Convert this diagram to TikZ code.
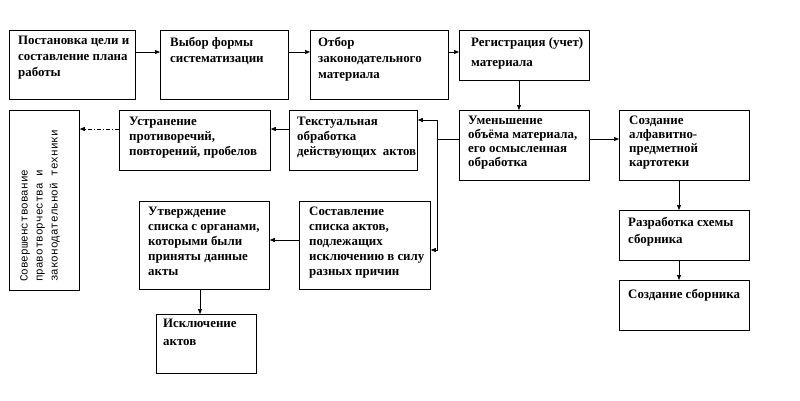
\documentclass[tikz,border=0pt]{standalone}
\usepackage{fontspec}
\setmainfont{Liberation Serif}
\newfontfamily\monofnt{Liberation Mono}
\usetikzlibrary{arrows.meta}
\begin{document}
\begin{tikzpicture}[x=1pt,y=-1pt,
  box/.style={draw, line width=0.8pt, anchor=north west, inner sep=0pt},
  txt/.style={anchor=north west, inner sep=0pt, align=left, font=\bfseries\fontsize{12.9}{#1}\selectfont},
  txt/.default=15,
  arr/.style={line width=0.7pt, -{Triangle[length=5pt,width=4pt]}},
  dd/.style={line width=0.7pt, -{Triangle[length=5pt,width=4pt]}, dash pattern=on 4pt off 2pt on 1pt off 2pt}]
\useasboundingbox (0,0) rectangle (800,400);
% boxes
\node[box, minimum width=126, minimum height=69] (b1) at (9,30) {};
\node[box, minimum width=128, minimum height=69] (b2) at (160,30) {};
\node[box, minimum width=138, minimum height=69] (b3) at (310,30) {};
\node[box, minimum width=130, minimum height=50] (b4) at (459,30) {};
\node[box, minimum width=130, minimum height=70] (b5) at (459,110) {};
\node[box, minimum width=130, minimum height=70] (b6) at (619,110) {};
\node[box, minimum width=130, minimum height=50] (b7) at (619,210) {};
\node[box, minimum width=130, minimum height=50] (b8) at (619,280) {};
\node[box, minimum width=128, minimum height=60] (b9) at (289,110) {};
\node[box, minimum width=151, minimum height=60] (b10) at (119,110) {};
\node[box, minimum width=131, minimum height=88] (b11) at (299,201) {};
\node[box, minimum width=130, minimum height=88] (b12) at (139,201) {};
\node[box, minimum width=100, minimum height=59] (b13) at (156,314) {};
\node[box, minimum width=70, minimum height=180] (b14) at (9,110) {};
% texts
\node[txt=16] (t1) at ([shift={(9,6)}]b1.north west) {Постановка цели и\\составление плана\\работы};
\node[txt=16] (t2) at ([shift={(10,7)}]b2.north west) {Выбор формы\\систематизации};
\node[txt=16] (t3) at ([shift={(8,7)}]b3.north west) {Отбор\\законодательного\\материала};
\node[txt=20] (t4) at ([shift={(12,7)}]b4.north west) {Регистрация (учет)\\материала};
\node[txt=14] (t5) at ([shift={(9,6)}]b5.north west) {Уменьшение\\объёма материала,\\его осмысленная\\обработка};
\node[txt=14] (t6) at ([shift={(10,6)}]b6.north west) {Создание\\алфавитно-\\предметной\\картотеки};
\node[txt=17] (t7) at ([shift={(9,7)}]b7.north west) {Разработка схемы\\сборника};
\node[txt] (t8) at ([shift={(9,9)}]b8.north west) {Создание сборника};
\node[txt=15] (t9) at ([shift={(8,7)}]b9.north west) {Текстуальная\\обработка\\действующих\ \ актов};
\node[txt=15] (t10) at ([shift={(10,7)}]b10.north west) {Устранение\\противоречий,\\повторений, пробелов};
\node[txt=15] (t11) at ([shift={(10,6)}]b11.north west) {Составление\\списка актов,\\подлежащих\\исключению в силу\\разных причин};
\node[txt=15] (t12) at ([shift={(9,6)}]b12.north west) {Утверждение\\списка с органами,\\которыми были\\приняты данные\\акты};
\node[txt=18] (t13) at ([shift={(7,5)}]b13.north west) {Исключение\\актов};
\node[anchor=north west, inner sep=0pt, align=left, rotate=90, font=\monofnt\fontsize{11}{15}\selectfont] (t14) at (20,282) {Совершенствование\\правотворчества и\\законодательной техники};
% connector coordinates
\coordinate (r1) at (0,52);
\coordinate (j) at (437,139);
\coordinate (jt) at (437,120);
\coordinate (jb) at (437,250);
\coordinate (r2) at (0,129);
\coordinate (r3) at (0,240);
\coordinate (c1) at (519,0);
\coordinate (c2) at (679,0);
\coordinate (c3) at (200,0);
% connectors
\draw[arr] (b1.east |- r1) -- (b2.west |- r1);
\draw[arr] (b2.east |- r1) -- (b3.west |- r1);
\draw[arr] (b3.east |- r1) -- (b4.west |- r1);
\draw[arr] (b4.south -| c1) -- (b5.north -| c1);
\draw[arr] (b5.east |- j) -- (b6.west |- j);
\draw[arr] (b6.south -| c2) -- (b7.north -| c2);
\draw[arr] (b7.south -| c2) -- (b8.north -| c2);
\draw[line width=0.7pt] (b5.west |- j) -- (j);
\draw[arr] (j) -- (jt) -- (jt -| b9.east);
\draw[arr] (j) -- (jb) -- (jb -| b11.east);
\draw[arr] (b9.west |- r2) -- (b10.east |- r2);
\draw[dd] (b10.west |- r2) -- (b14.east |- r2);
\draw[arr] (b11.west |- r3) -- (b12.east |- r3);
\draw[arr] (b12.south -| c3) -- (b13.north -| c3);
\end{tikzpicture}
\end{document}
